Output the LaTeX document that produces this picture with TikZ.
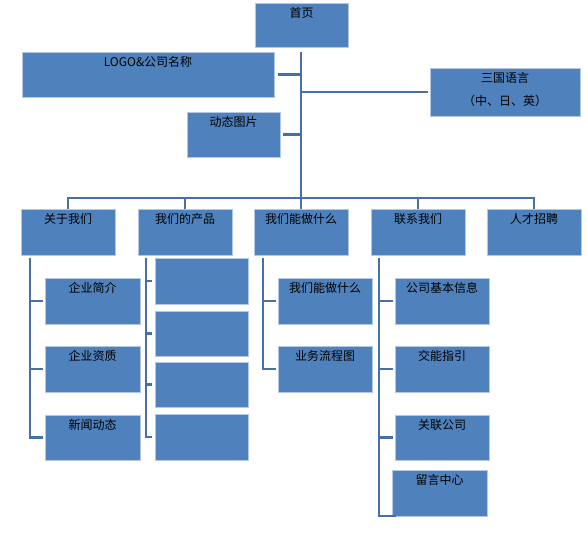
\documentclass[tikz,border=0pt]{standalone}
\usepackage{fontspec}
\newfontfamily\cjk{Noto Sans CJK SC}
\usetikzlibrary{calc}
\definecolor{boxfill}{HTML}{4F81BD}
\definecolor{boxedge}{HTML}{B4C7E3}
\definecolor{conncol}{HTML}{4570A8}
\tikzset{
  box/.style={draw=boxedge, line width=0.9pt, fill=boxfill, inner sep=0pt, outer sep=0pt, anchor=north west},
  txt/.style={inner sep=0pt, anchor=north, yshift=-4pt, font=\cjk\fontsize{12}{23}\selectfont, align=center, text=black},
  conn/.style={draw=conncol, line width=2.2pt},
}
\newcommand\mybox[6]{%
  \pgfmathsetmacro\bw{#4-#2}\pgfmathsetmacro\bh{#5-#3}%
  \node[box, minimum width=\bw pt, minimum height=\bh pt] (#1) at (#2,#3) {};
  \node[txt] (#1-t) at (#1.north) {#6};
}
\begin{document}
\begin{tikzpicture}[x=1pt,y=-1pt]
\useasboundingbox[fill=white] (0,0) rectangle (588,538);
% top level
\mybox{home}{255}{3}{348}{47}{首页}
\mybox{logo}{22}{52}{274}{97}{LOGO\&公司名称}
\mybox{lang}{430}{68}{580}{116}{三国语言\\（中、日、英）}
\mybox{pic}{187}{112}{280}{157}{动态图片}
% second level
\mybox{about}{21}{209}{115}{255}{关于我们}
\mybox{prod}{138}{209}{232}{255}{我们的产品}
\mybox{do}{254}{209}{348}{255}{我们能做什么}
\mybox{contact}{371}{209}{465}{255}{联系我们}
\mybox{hr}{487}{209}{581}{255}{人才招聘}
% about children
\mybox{intro}{45}{278}{140}{324}{企业简介}
\mybox{qual}{45}{346}{140}{392}{企业资质}
\mybox{news}{45}{415}{140}{460}{新闻动态}
% product children
\mybox{p1}{155}{258}{248}{304}{}
\mybox{p2}{155}{311}{248}{356}{}
\mybox{p3}{155}{362}{248}{407}{}
\mybox{p4}{155}{414}{248}{460}{}
% do children
\mybox{d1}{278}{278}{372}{324}{我们能做什么}
\mybox{d2}{278}{346}{372}{392}{业务流程图}
% contact children
\mybox{c1}{395}{278}{489}{324}{公司基本信息}
\mybox{c2}{395}{346}{489}{392}{交能指引}
\mybox{c3}{395}{415}{489}{460}{关联公司}
\mybox{c4}{392}{470}{487}{516}{留言中心}
% trunk
\coordinate (trunktop) at (301,52);
\coordinate (bar) at (301,198);
\draw[conn] (trunktop) -- (bar);
\draw[conn] ([xshift=4pt]logo.east) -- (bar |- logo.east);
\draw[conn] (bar |- lang.west) -- ([xshift=-2pt]lang.west);
\draw[conn] ([xshift=3pt]pic.east) -- (bar |- pic.east);
% bar and drops
\draw[conn] (about.north) -- (about.north |- bar) -- (hr.north |- bar) -- (hr.north);
\draw[conn] (prod.north |- bar) -- (prod.north);
\draw[conn] (do.north |- bar) -- (do.north);
\draw[conn] (contact.north |- bar) -- (contact.north);
% about spine
\coordinate (as) at (30,258);
\draw[conn] (as) |- ([xshift=-2pt]news.west);
\draw[conn] (as |- intro.west) -- ([xshift=-2pt]intro.west);
\draw[conn] (as |- qual.west) -- ([xshift=-2pt]qual.west);
% product spine
\coordinate (ps) at (146,258);
\draw[conn] (ps) |- ([xshift=-3pt]p4.west);
\draw[conn] (ps |- p1.west) -- ([xshift=-3pt]p1.west);
\draw[conn] (ps |- p2.west) -- ([xshift=-3pt]p2.west);
\draw[conn] (ps |- p3.west) -- ([xshift=-3pt]p3.west);
% do spine
\coordinate (ds) at (263,258);
\draw[conn] (ds) |- ([xshift=-2pt]d2.west);
\draw[conn] (ds |- d1.west) -- ([xshift=-2pt]d1.west);
% contact spine
\coordinate (cs) at (379,258);
\draw[conn] (cs) |- ([xshift=4pt]c4.south west);
\draw[conn] (cs |- c1.west) -- ([xshift=-2pt]c1.west);
\draw[conn] (cs |- c2.west) -- ([xshift=-2pt]c2.west);
\draw[conn] (cs |- c3.west) -- ([xshift=-2pt]c3.west);
\end{tikzpicture}
\end{document}
